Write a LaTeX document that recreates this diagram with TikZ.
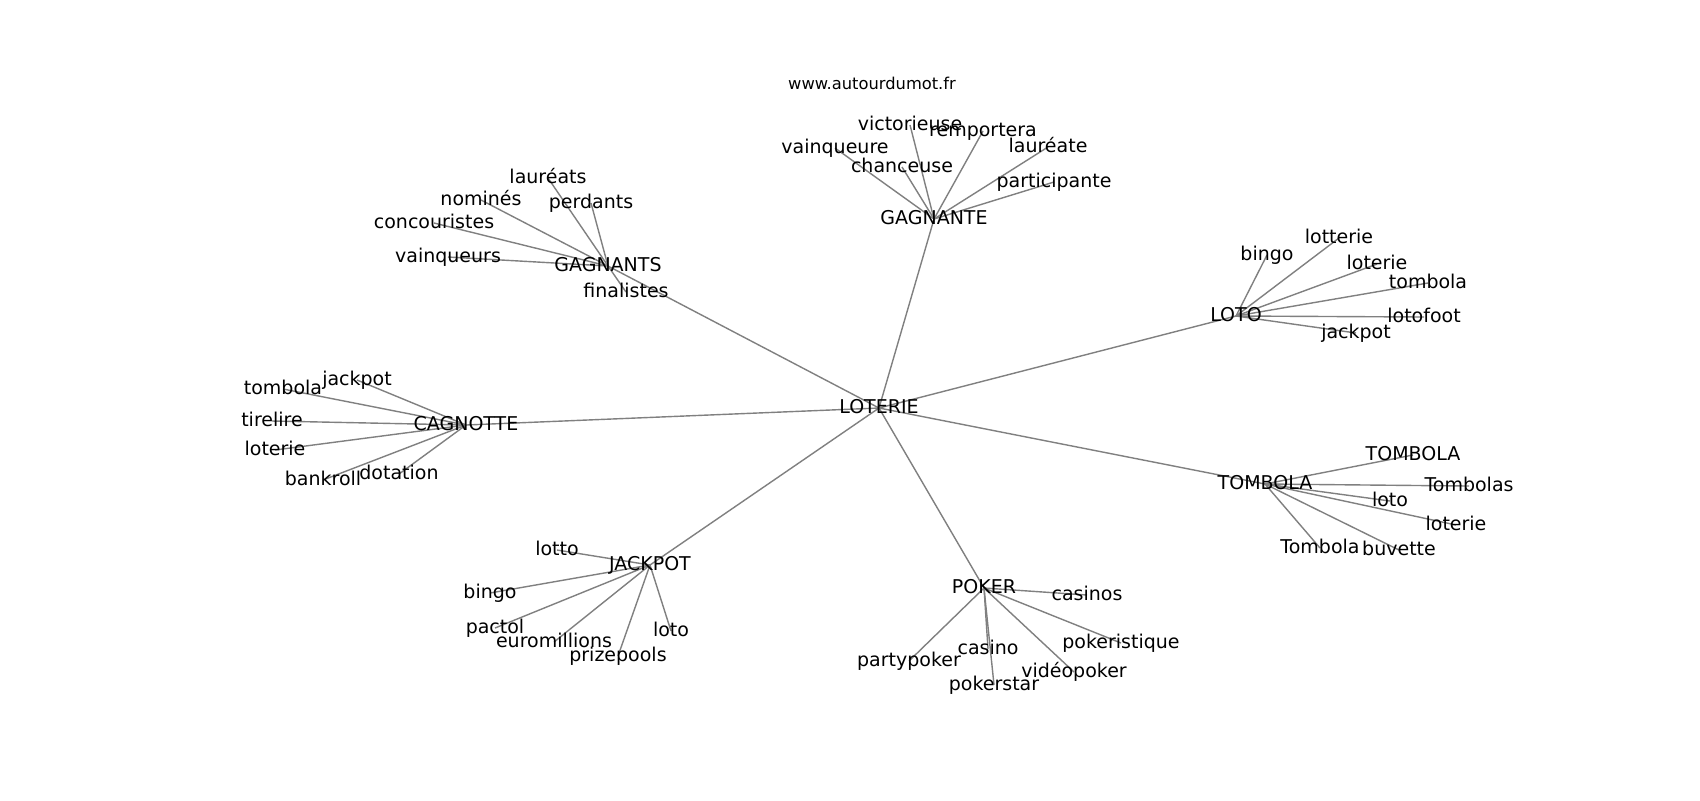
\documentclass[tikz,border=0pt]{standalone}
\usepackage{fontspec}
\setmainfont{DejaVu Sans}
\usetikzlibrary{backgrounds}
\pgfdeclarelayer{paper}
\pgfsetlayers{paper,background,main}
\begin{document}
\begin{tikzpicture}[x=0.5pt,y=-0.5pt,
  lab/.style={inner sep=0pt, text height=0.76em, text depth=0.24em, font=\fontsize{9.5}{11}\selectfont},
  ttl/.style={inner sep=0pt, text height=0.76em, text depth=0.24em, font=\fontsize{8.15}{10}\selectfont},
  edge/.style={draw=gray, line width=0.7pt}]
\begin{pgfonlayer}{paper}
\fill[white] (0,0) rectangle (1700,800);
\end{pgfonlayer}
\useasboundingbox (0,0) rectangle (1700,800);

\node[ttl] (title) at (872,84) {www.autourdumot.fr};

% centre and hubs
\node[lab] (loterie) at (879,408) {LOTERIE};
\foreach \h/\x/\y/\t in {gagnants/608/266/GAGNANTS, gagnante/934/219/GAGNANTE,
  loto/1236/316/LOTO, cagnotte/466/425/CAGNOTTE, tombola/1265/484/TOMBOLA,
  jackpot/650/565/JACKPOT, poker/984/588/POKER}{
  \node[lab] (\h) at (\x,\y) {\t};
  \begin{pgfonlayer}{background}
  \draw[edge] (loterie.center) -- (\h.center);
  \end{pgfonlayer}
}

% leaves
\foreach \h/\n/\x/\y/\t in {
  gagnants/gs1/548/178/lauréats, gagnants/gs2/481/200/nominés,
  gagnants/gs3/591/203/perdants, gagnants/gs4/434/223/concouristes,
  gagnants/gs5/448/257/vainqueurs, gagnants/gs6/626/292/finalistes,
  gagnante/ge1/910/125/victorieuse, gagnante/ge2/983/131/remportera,
  gagnante/ge3/835/148/vainqueure, gagnante/ge4/902/167/chanceuse,
  gagnante/ge5/1048/147/lauréate, gagnante/ge6/1054/182/participante,
  loto/lo1/1267/255/bingo, loto/lo2/1339/238/lotterie,
  loto/lo3/1377/264/loterie, loto/lo4/1428/283/tombola,
  loto/lo5/1424/317/lotofoot, loto/lo6/1356/333/jackpot,
  cagnotte/ca1/357/380/jackpot, cagnotte/ca2/283/389/tombola,
  cagnotte/ca3/272/421/tirelire, cagnotte/ca4/275/450/loterie,
  cagnotte/ca5/323/480/bankroll, cagnotte/ca6/399/474/dotation,
  tombola/to1/1413/455/TOMBOLA, tombola/to2/1469/486/Tombolas,
  tombola/to3/1390/501/loto, tombola/to4/1456/525/loterie,
  tombola/to5/1320/548/Tombola, tombola/to6/1399/550/buvette,
  jackpot/ja1/557/550/lotto, jackpot/ja2/490/593/bingo,
  jackpot/ja3/495/628/pactol, jackpot/ja4/554/642/euromillions,
  jackpot/ja5/618/656/prizepools, jackpot/ja6/671/631/loto,
  poker/po1/1087/595/casinos, poker/po2/1121/643/pokeristique,
  poker/po3/909/661/partypoker, poker/po4/988/649/casino,
  poker/po5/994/685/pokerstar, poker/po6/1074/672/vidéopoker}{
  \node[lab] (\n) at (\x,\y) {\t};
  \begin{pgfonlayer}{background}
  \draw[edge] (\h.center) -- (\n.center);
  \end{pgfonlayer}
}
\end{tikzpicture}
\end{document}
